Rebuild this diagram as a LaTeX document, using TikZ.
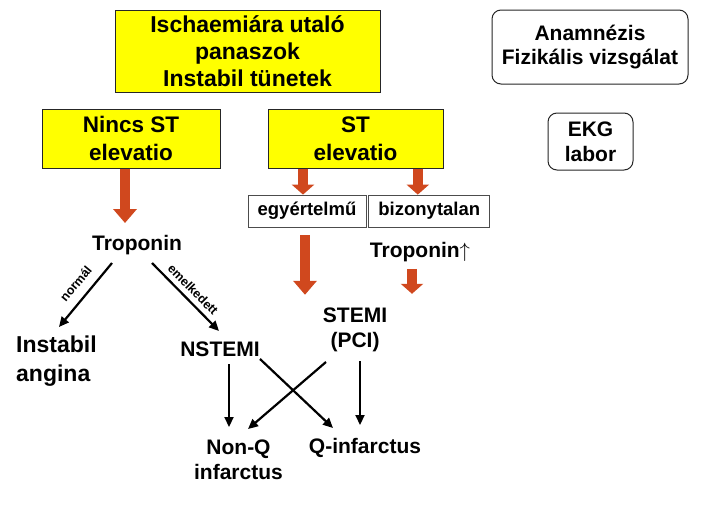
\documentclass[tikz,border=0pt]{standalone}
\usepackage{fontspec}
\setmainfont{Liberation Sans}
\usetikzlibrary{positioning,arrows.meta,calc}
\definecolor{boxyellow}{RGB}{255,255,0}
\definecolor{arrowred}{RGB}{208,72,30}

\begin{document}
\begin{tikzpicture}[x=1pt, y=-1pt,
    font=\bfseries\fontsize{21}{25}\selectfont,
    ybox/.style={draw=black!85, line width=1pt, fill=boxyellow,
                 align=center, inner sep=2pt,
                 font=\bfseries\fontsize{22.5}{28}\selectfont},
    wbox/.style={draw=black!85, line width=1pt, fill=white,
                 rounded corners=9pt, align=center, inner sep=2pt},
    sbox/.style={draw=black!70, line width=0.8pt, fill=white,
                 font=\bfseries\fontsize{18.5}{22}\selectfont,
                 minimum height=32pt, inner sep=2pt},
    txt/.style={align=center, inner sep=2pt},
    redarr/.style={draw=arrowred, line width=10pt,
                   -{Triangle[width=23pt,length=14pt]}},
    redsm/.style={draw=arrowred, line width=10pt,
                  -{Triangle[width=22pt,length=10pt]}},
    blk/.style={draw=black, line width=2.2pt,
                -{Triangle[width=9pt,length=10pt]}},
    lbl/.style={font=\bfseries\fontsize{12.5}{14}\selectfont,
                sloped, inner sep=1pt}
  ]
  \useasboundingbox (0,0) rectangle (704,506);
  % boxes
  \node[ybox, minimum width=265pt, minimum height=82pt,
        font=\bfseries\fontsize{23}{27}\selectfont] (top) at (247.5,51)
    {Ischaemiára utaló\\panaszok\\Instabil tünetek};
  \node[wbox, minimum width=196pt, minimum height=74pt,
        font=\bfseries\fontsize{21}{24}\selectfont] (anam) at (590,47)
    {Anamnézis\\Fizikális vizsgálat};
  \node[ybox, minimum width=178pt, minimum height=59pt] (nincs) at (131,138.5)
    {Nincs ST\\elevatio};
  \node[ybox, minimum width=175pt, minimum height=59pt] (st) at (355.5,138.5)
    {ST\\elevatio};
  \node[wbox, minimum width=85pt, minimum height=57pt] (ekg) at (590.5,141.5)
    {EKG\\labor};
  \node[sbox, minimum width=118pt] (egy) at (307,211) {egyértelmű};
  \node[sbox, minimum width=121pt, right=2pt of egy] (biz) {bizonytalan};
  % plain texts
  \node[txt] (trop) at (137,245) {Troponin};
  \node[txt] (tropup) at (420,252) {Troponin$\uparrow$};
  \node[txt, anchor=west, align=left,
        font=\bfseries\fontsize{23}{29}\selectfont] (inst) at (14,361)
    {Instabil\\angina};
  \node[txt] (nstemi) at (220,349) {NSTEMI};
  \node[txt] (stemi) at (355,330) {STEMI\\(PCI)};
  \node[txt] (nonq) at (238.5,460) {Non-Q\\infarctus};
  \node[txt] (qinf) at (365,448) {Q-infarctus};
  % red block arrows
  \draw[redarr] ([xshift=-6pt]nincs.south)
    -- ([xshift=-6pt]nincs.south |- trop.north) [shorten >=10pt];
  \draw[redsm] ([xshift=-4pt]egy.north |- st.south) -- ([xshift=-4pt]egy.north);
  \draw[redsm] ([xshift=-11.5pt]biz.north |- st.south) -- ([xshift=-11.5pt]biz.north);
  \draw[redarr, shorten <=8pt, shorten >=11pt] ([xshift=-2pt]egy.south)
    -- ([xshift=-2pt]egy.south |- stemi.north);
  \draw[redsm, shorten <=5pt, shorten >=12pt] ([xshift=-8pt]tropup.south)
    -- ([xshift=-8pt]tropup.south |- stemi.north);
  % black arrows
  \draw[blk] ($(trop)+(-25,18)$)
    -- node[lbl, above=8pt, pos=0.47]{normál} ($(inst)+(2.5,-34)$);
  \draw[blk] ($(trop)+(15,18)$)
    -- node[lbl, above=4pt]{emelkedett} ($(nstemi)+(-1,-18)$);
  \draw[blk] ($(nstemi)+(9,15)$) -- ($(nonq)+(-9.5,-33)$);
  \draw[blk] ($(nstemi)+(40,10)$) -- ($(qinf)+(-32,-20)$);
  \draw[blk] ($(stemi)+(-29,32)$) -- ($(nonq)+(9.5,-31)$);
  \draw[blk] ($(stemi)+(5,31)$) -- ($(qinf)+(-5,-23)$);
\end{tikzpicture}
\end{document}
